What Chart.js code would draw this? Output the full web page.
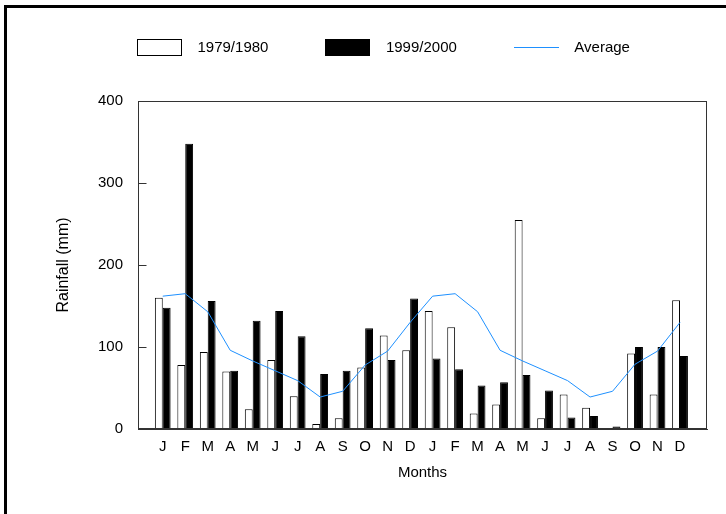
<!DOCTYPE html>
<html>
<head>
<meta charset="utf-8">
<script src="https://cdn.jsdelivr.net/npm/chart.js@4.4.0/dist/chart.umd.min.js"></script>
<style>
body { margin: 0; background: #fff; overflow: hidden; }
#frame { position: absolute; left: 4px; top: 5px; width: 800px; height: 600px; border-left: 3px solid #000; border-top: 3px solid #000; }
#rain { position: absolute; left: 0; top: 0; }
</style>
</head>
<body>
<div id="frame"></div>
<canvas id="rain" width="726" height="514"></canvas>
<script>
// Monthly rainfall, two seasons shown back to back.
var months = ['J', 'F', 'M', 'A', 'M', 'J', 'J', 'A', 'S', 'O', 'N', 'D'];
var labels = months.concat(months);

var rain7980 = [160, 78, 94, 70, 24, 84, 40, 6, 13, 75, 114, 96,
                144, 124, 19, 30, 255, 13, 42, 26, 1, 92, 42, 157];
var rain9900 = [148, 348, 156, 71, 132, 144, 113, 67, 71, 123, 84, 159,
                86, 73, 53, 57, 66, 47, 14, 16, 3, 100, 100, 89];
var average = [162, 165, 143, 96, 83, 71, 59, 39, 46, 78, 95, 130,
               162, 165, 143, 96, 83, 71, 59, 39, 46, 79, 95, 130];
var yTicks = [0, 100, 200, 300, 400];

function toPoints(vals) {
    return vals.map(function (v, i) {
        return { x: i + 1, y: v };
    });
}

// small pictures for the legend keys
function legendIcon(fill, stroke, isLine) {
    var c = document.createElement('canvas');
    c.width = 45;
    c.height = 17;
    var g = c.getContext('2d');
    if (isLine) {
        g.strokeStyle = stroke;
        g.lineWidth = 1;
        g.beginPath();
        g.moveTo(0, 8.5);
        g.lineTo(45, 8.5);
        g.stroke();
    } else {
        g.fillStyle = fill;
        g.fillRect(0, 0, 45, 17);
        g.strokeStyle = stroke;
        g.strokeRect(0.5, 0.5, 44, 16);
    }
    return c;
}
var icons = [
    legendIcon('#fff', '#000', false),
    legendIcon('#000', '#000', false),
    legendIcon(null, '#1E90FF', true)
];

// box round the plot area, with the y ticks pointing inwards
var plotFrame = {
    id: 'plotFrame',
    afterDraw: function (chart) {
        var a = chart.chartArea;
        var ctx = chart.ctx;
        var y = chart.scales.y;
        var left = Math.round(a.left) + 0.5;
        ctx.save();
        ctx.strokeStyle = '#333';
        ctx.lineWidth = 1;
        ctx.strokeRect(left, Math.round(a.top) + 0.5,
            Math.round(a.right - a.left) - 1, Math.round(a.bottom - a.top) - 1);
        ctx.beginPath();
        yTicks.forEach(function (v) {
            var py = Math.round(y.getPixelForValue(v)) + 0.5;
            ctx.moveTo(left, py);
            ctx.lineTo(left + 8, py);
        });
        ctx.stroke();
        ctx.restore();
    }
};

Chart.defaults.font.family = "'Liberation Sans', Arial, sans-serif";
Chart.defaults.font.size = 15;
Chart.defaults.color = '#000';

var ctx = document.getElementById('rain').getContext('2d');
var chart = new Chart(ctx, {
    type: 'bar',
    data: {
        datasets: [{
            label: '1979/1980',
            data: toPoints(rain7980),
            backgroundColor: '#fff',
            borderColor: '#000',
            borderWidth: 1,
            barPercentage: 1,
            categoryPercentage: 0.7
        }, {
            label: '1999/2000',
            data: toPoints(rain9900),
            backgroundColor: '#000',
            borderColor: '#000',
            borderWidth: 1,
            barPercentage: 1,
            categoryPercentage: 0.7
        }, {
            type: 'line',
            label: 'Average',
            data: toPoints(average),
            borderColor: '#1E90FF',
            borderWidth: 1,
            pointRadius: 0,
            tension: 0,
            fill: false,
            order: -1
        }]
    },
    options: {
        responsive: false,
        animation: false,
        layout: { padding: { left: 80, right: 19, top: -9, bottom: 32.5 } },
        plugins: {
            tooltip: { enabled: false },
            legend: {
                align: 'start',
                weight: 1000,
                labels: {
                    usePointStyle: true,
                    pointStyleWidth: 61,
                    padding: 49,
                    font: { size: 15 },
                    sort: function (a, b) { return a.datasetIndex - b.datasetIndex; },
                    generateLabels: function (chart) {
                        return Chart.defaults.plugins.legend.labels.generateLabels(chart).map(function (item) {
                            item.pointStyle = icons[item.datasetIndex];
                            return item;
                        });
                    }
                }
            },
            // empty title used as a spacer under the legend
            title: {
                display: true,
                text: ' ',
                weight: 500,
                font: { size: 10 },
                padding: { top: 12, bottom: 12 }
            }
        },
        scales: {
            x: {
                type: 'linear',
                offset: false,
                min: -0.1,
                max: 25.2,
                afterBuildTicks: function (s) {
                    s.ticks = labels.map(function (l, i) { return { value: i + 1 }; });
                },
                afterFit: function (s) { s.height = 52.5; },
                grid: { display: false, drawTicks: false },
                border: { display: true, color: '#333' },
                ticks: {
                    autoSkip: false,
                    maxRotation: 0,
                    padding: 9,
                    font: { size: 15 },
                    callback: function (v) { return labels[v - 1]; }
                },
                title: { display: true, text: 'Months', font: { size: 15 }, padding: 0 }
            },
            y: {
                min: 0,
                max: 400,
                afterBuildTicks: function (s) {
                    s.ticks = yTicks.map(function (v) { return { value: v }; });
                },
                afterFit: function (s) { s.width = 58; },
                grid: { display: false, drawTicks: false },
                border: { display: true, color: '#333' },
                ticks: { padding: 15, font: { size: 15 } },
                title: {
                    display: true,
                    text: 'Rainfall (mm)',
                    font: { size: 16 },
                    padding: { top: -25.6, bottom: 0 }
                }
            }
        }
    },
    plugins: [plotFrame]
});
</script>
</body>
</html>
